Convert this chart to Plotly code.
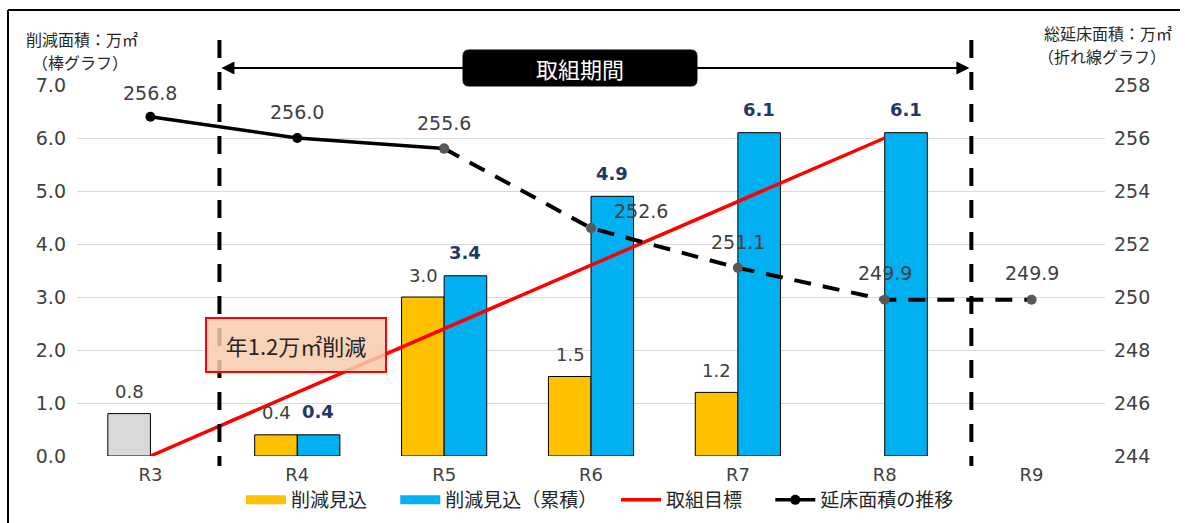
import plotly.graph_objects as go

# ---- data ----
categories = ["R3", "R4", "R5", "R6", "R7", "R8", "R9"]
reduction_actual_r3 = [0.8]                       # R3 gray bar
reduction_yearly = [None, 0.4, 3.0, 1.5, 1.2, None, None]
reduction_cumulative = [None, 0.4, 3.4, 4.9, 6.1, 6.1, None]
target_cats = ["R3", "R4", "R5", "R6", "R7", "R8"]
target_values = [0.0, 1.2, 2.4, 3.6, 4.8, 6.0]
floor_solid_cats = ["R3", "R4", "R5"]
floor_solid_values = [256.8, 256.0, 255.6]
floor_dash_cats = ["R5", "R6", "R7", "R8", "R9"]
floor_dash_values = [255.6, 252.6, 251.1, 249.9, 249.9]
floor_all_values = [256.8, 256.0, 255.6, 252.6, 251.1, 249.9, 249.9]
legend_names = ["削減見込", "削減見込（累積）", "取組目標", "延床面積の推移"]

# ---- styles ----
FONT = "Noto Sans CJK JP"
NUM = "DejaVu Sans"
TXT = "#404040"
YELLOW = "#FFC000"
BLUE = "#00B0F0"
GRAY = "#D9D9D9"
NAVY = "#1F3864"
BW = 0.29
PAD = "\u3000\u00a0"

W, H = 1185, 523
ML, MR, MT, MB = 77, 80, 85, 67
PW, PH = W - ML - MR, H - MT - MB


def px_x(x):
    return (x - ML) / PW


def px_y(y):
    return (H - MB - y) / PH


fig = go.Figure()

fig.add_trace(go.Bar(x=["R3"], y=reduction_actual_r3, width=BW, offset=-BW,
                     marker=dict(color=GRAY, line=dict(color="black", width=1)),
                     showlegend=False, hoverinfo="skip"))
fig.add_trace(go.Bar(x=categories, y=reduction_yearly, width=BW, offset=-BW, name=legend_names[0],
                     showlegend=False,
                     marker=dict(color=YELLOW, line=dict(color="black", width=1))))
fig.add_trace(go.Bar(x=categories, y=reduction_cumulative, width=BW, offset=0, name=legend_names[1],
                     showlegend=False,
                     marker=dict(color=BLUE, line=dict(color="black", width=1))))
fig.add_trace(go.Scatter(x=target_cats, y=target_values, mode="lines", name=legend_names[2],
                         showlegend=False, line=dict(color="#FF0000", width=3.5)))
fig.add_trace(go.Scatter(x=floor_dash_cats, y=floor_dash_values, mode="lines+markers",
                         yaxis="y2", showlegend=False,
                         line=dict(color="black", width=4, dash="17px,12px"),
                         marker=dict(color="#595959", size=10)))
fig.add_trace(go.Scatter(x=floor_solid_cats, y=floor_solid_values, mode="lines+markers",
                         yaxis="y2", name=legend_names[3], showlegend=False,
                         line=dict(color="black", width=3.5),
                         marker=dict(color=["black", "black", "#595959"], size=10)))

# legend-only entries (wide swatches like the reference)
fig.add_trace(go.Scatter(x=[None], y=[None], mode="lines", name=legend_names[0] + PAD,
                         line=dict(color=YELLOW, width=9)))
fig.add_trace(go.Scatter(x=[None], y=[None], mode="lines", name=legend_names[1] + PAD,
                         line=dict(color=BLUE, width=9)))
fig.add_trace(go.Scatter(x=[None], y=[None], mode="lines", name=legend_names[2] + PAD,
                         line=dict(color="#FF0000", width=3.5)))
fig.add_trace(go.Scatter(x=[None], y=[None], mode="lines+markers", name=legend_names[3],
                         line=dict(color="black", width=3.5), marker=dict(color="black", size=10)))

annotations = []
# bar labels
annotations.append(dict(x="R3", y=reduction_actual_r3[0], text=f"{reduction_actual_r3[0]:.1f}",
                        xref="x", yref="y", showarrow=False, yshift=22, xshift=-21,
                        font=dict(family=NUM, size=18, color=TXT)))
for c, v in zip(categories, reduction_yearly):
    if v is not None:
        annotations.append(dict(x=c, y=v, text=f"{v:.1f}", xref="x", yref="y", showarrow=False,
                                yshift=22, xshift=-21, font=dict(family=NUM, size=18, color=TXT)))
for c, v in zip(categories, reduction_cumulative):
    if v is not None:
        annotations.append(dict(x=c, y=v, text=f"<b>{v:.1f}</b>", xref="x", yref="y", showarrow=False,
                                yshift=23, xshift=21, font=dict(family=NUM, size=18, color=NAVY)))
# line labels
line_label_shift = [(0, 24), (0, 26), (0, 26), (50, 17), (0, 26), (0, 27), (0, 27)]
for c, v, (dx, dy) in zip(categories, floor_all_values, line_label_shift):
    annotations.append(dict(x=c, y=v, text=f"{v:.1f}", xref="x", yref="y2", showarrow=False,
                            xshift=dx, yshift=dy, font=dict(family=NUM, size=19, color=TXT)))

# period arrow
LEFT_X, RIGHT_X = 0.47, 5.59
arrow_y = px_y(68)
for a, b in [(3.0, LEFT_X), (3.0, RIGHT_X)]:
    annotations.append(dict(x=b, y=arrow_y, xref="x", yref="paper", ax=a, ay=0,
                            axref="x", ayref="pixel", text="", showarrow=True,
                            arrowhead=2, arrowsize=1.3, arrowwidth=2, arrowcolor="black",
                            standoff=2))
annotations.append(dict(x=px_x(580), y=arrow_y, xref="paper", yref="paper", text="取組期間",
                        showarrow=False, xanchor="center", yanchor="middle",
                        font=dict(family=FONT, size=22, color="white")))
# target note
annotations.append(dict(x=px_x(296), y=px_y(345), xref="paper", yref="paper", text="年1.2万㎡削減",
                        showarrow=False, xanchor="center", yanchor="middle",
                        bgcolor="rgba(248,203,173,0.85)", bordercolor="#FF0000",
                        borderwidth=2, width=176, height=50,
                        font=dict(family=FONT, size=22, color="#262626")))
# axis titles (one annotation per line)
for txt, xx, yy, anchor in [("削減面積：万㎡", 24, 39, "left"), ("（棒グラフ）", 30, 62, "left"),
                            ("総延床面積：万㎡", 1174, 33, "right"), ("（折れ線グラフ）", 1168, 56, "right")]:
    annotations.append(dict(x=px_x(xx), y=px_y(yy), xref="paper", yref="paper", xanchor=anchor,
                            yanchor="middle", showarrow=False, text=txt,
                            font=dict(family=FONT, size=16, color="#262626")))

shapes = []
for xv in [LEFT_X, RIGHT_X]:
    shapes.append(dict(type="line", xref="x", yref="paper", x0=xv, x1=xv,
                       y0=px_y(40), y1=px_y(466),
                       line=dict(color="black", width=4, dash="18px,14px"), layer="above"))
# rounded black label box
bx0, bx1, by0, by1, r = 463, 697, 50, 86, 6


def P(x, y):
    return f"{px_x(x):.5f},{px_y(y):.5f}"


path = (f"M {P(bx0 + r, by0)} L {P(bx1 - r, by0)} Q {P(bx1, by0)} {P(bx1, by0 + r)} "
        f"L {P(bx1, by1 - r)} Q {P(bx1, by1)} {P(bx1 - r, by1)} "
        f"L {P(bx0 + r, by1)} Q {P(bx0, by1)} {P(bx0, by1 - r)} "
        f"L {P(bx0, by0 + r)} Q {P(bx0, by0)} {P(bx0 + r, by0)} Z")
shapes.append(dict(type="path", xref="paper", yref="paper", path=path, fillcolor="black",
                   line=dict(color="black", width=1), layer="above"))
# outer frame (left & top)
shapes.append(dict(type="line", xref="paper", yref="paper", x0=px_x(8), x1=px_x(8),
                   y0=px_y(10), y1=px_y(530), line=dict(color="black", width=2)))
shapes.append(dict(type="line", xref="paper", yref="paper", x0=px_x(8), x1=px_x(1180),
                   y0=px_y(10), y1=px_y(10), line=dict(color="black", width=2)))

fig.update_layout(
    width=W, height=H,
    margin=dict(l=ML, r=MR, t=MT, b=MB, autoexpand=False),
    paper_bgcolor="white", plot_bgcolor="white",
    barmode="overlay",
    font=dict(family=FONT, color=TXT),
    xaxis=dict(type="category", categoryorder="array", categoryarray=categories,
               range=[-0.5, 6.5], showgrid=False, zeroline=False, showline=False,
               ticks="", ticklabelstandoff=6, automargin=False,
               tickfont=dict(family=NUM, size=18, color=TXT)),
    yaxis=dict(range=[0, 7], dtick=1, tickformat=".1f", showgrid=True, gridcolor="#D9D9D9",
               gridwidth=1, zeroline=False, showline=False, ticks="", automargin=False,
               ticklabelstandoff=10,
               tickfont=dict(family=NUM, size=19, color=TXT)),
    yaxis2=dict(range=[244, 258], dtick=2, overlaying="y", side="right", showgrid=False,
                zeroline=False, showline=False, ticks="", automargin=False,
                ticklabelstandoff=8,
                tickfont=dict(family=NUM, size=19, color=TXT)),
    legend=dict(orientation="h", x=px_x(600), y=px_y(500), xanchor="center", yanchor="middle",
                font=dict(family=FONT, size=19, color="#262626"), traceorder="normal",
                itemwidth=40, bgcolor="rgba(0,0,0,0)"),
    annotations=annotations,
    shapes=shapes,
    showlegend=True,
)

fig.write_html("out.html")
